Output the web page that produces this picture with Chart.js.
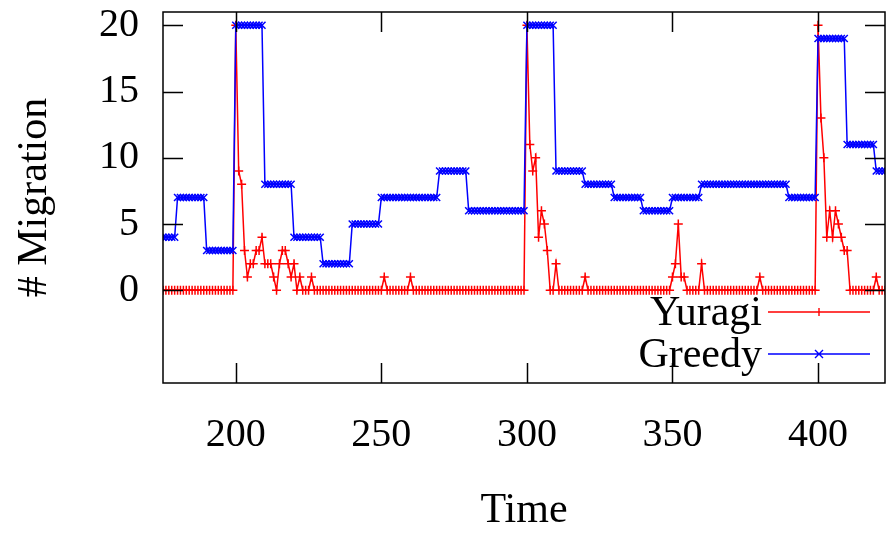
<!DOCTYPE html>
<html>
<head>
<meta charset="utf-8">
<script src="https://cdn.jsdelivr.net/npm/chart.js@4.4.1/dist/chart.umd.min.js"></script>
<style>
  html, body { margin: 0; padding: 0; background: #fff; }
  #wrap { width: 886px; height: 533px; }
</style>
</head>
<body>
<div id="wrap"><canvas id="grafico" width="886" height="533"></canvas></div>
<script>
// time runs 175..423, one sample per step
const startTime = 175;

const yuragi = [
    0, 0, 0, 0, 0,
    0, 0, 0, 0, 0, 0, 0, 0, 0, 0,
    0, 0, 0, 0, 0, 0, 0, 0, 0, 0,
    20, 9, 8, 3, 1, 2, 2, 3, 3, 4,
    2, 2, 2, 1, 0, 2, 3, 3, 2, 1,
    2, 0, 1, 0, 0, 0, 1, 0, 0, 0,
    0, 0, 0, 0, 0, 0, 0, 0, 0, 0,
    0, 0, 0, 0, 0, 0, 0, 0, 0, 0,
    0, 1, 0, 0, 0, 0, 0, 0, 0, 0,
    1, 0, 0, 0, 0, 0, 0, 0, 0, 0,
    0, 0, 0, 0, 0, 0, 0, 0, 0, 0,
    0, 0, 0, 0, 0, 0, 0, 0, 0, 0,
    0, 0, 0, 0, 0, 0, 0, 0, 0, 0,
    20, 11, 9, 10, 4, 6, 5, 3, 0, 0,
    2, 0, 0, 0, 0, 0, 0, 0, 0, 0,
    1, 0, 0, 0, 0, 0, 0, 0, 0, 0,
    0, 0, 0, 0, 0, 0, 0, 0, 0, 0,
    0, 0, 0, 0, 0, 0, 0, 0, 0, 0,
    1, 2, 5, 1, 1, 0, 0, 0, 0, 0,
    2, 0, 0, 0, 0, 0, 0, 0, 0, 0,
    0, 0, 0, 0, 0, 0, 0, 0, 0, 0,
    1, 0, 0, 0, 0, 0, 0, 0, 0, 0,
    0, 0, 0, 0, 0, 0, 0, 0, 0, 0,
    20, 13, 10, 4, 6, 4, 6, 5, 4, 3,
    3, 0, 0, 0, 0, 0, 0, 0, 0, 0,
    1, 0, 0, 0
];

const greedy = [
    4, 4, 4, 4, 4,
    7, 7, 7, 7, 7, 7, 7, 7, 7, 7,
    3, 3, 3, 3, 3, 3, 3, 3, 3, 3,
    20, 20, 20, 20, 20, 20, 20, 20, 20, 20,
    8, 8, 8, 8, 8, 8, 8, 8, 8, 8,
    4, 4, 4, 4, 4, 4, 4, 4, 4, 4,
    2, 2, 2, 2, 2, 2, 2, 2, 2, 2,
    5, 5, 5, 5, 5, 5, 5, 5, 5, 5,
    7, 7, 7, 7, 7, 7, 7, 7, 7, 7,
    7, 7, 7, 7, 7, 7, 7, 7, 7, 7,
    9, 9, 9, 9, 9, 9, 9, 9, 9, 9,
    6, 6, 6, 6, 6, 6, 6, 6, 6, 6,
    6, 6, 6, 6, 6, 6, 6, 6, 6, 6,
    20, 20, 20, 20, 20, 20, 20, 20, 20, 20,
    9, 9, 9, 9, 9, 9, 9, 9, 9, 9,
    8, 8, 8, 8, 8, 8, 8, 8, 8, 8,
    7, 7, 7, 7, 7, 7, 7, 7, 7, 7,
    6, 6, 6, 6, 6, 6, 6, 6, 6, 6,
    7, 7, 7, 7, 7, 7, 7, 7, 7, 7,
    8, 8, 8, 8, 8, 8, 8, 8, 8, 8,
    8, 8, 8, 8, 8, 8, 8, 8, 8, 8,
    8, 8, 8, 8, 8, 8, 8, 8, 8, 8,
    7, 7, 7, 7, 7, 7, 7, 7, 7, 7,
    19, 19, 19, 19, 19, 19, 19, 19, 19, 19,
    11, 11, 11, 11, 11, 11, 11, 11, 11, 11,
    9, 9, 9, 9
];

const times = greedy.map((v, i) => startTime + i);
const xTicks = [200, 250, 300, 350, 400];
const yTicks = [0, 5, 10, 15, 20];

const fonte = "'Liberation Serif', 'Times New Roman', serif";

// gnuplot-like frame with inward ticks on all four sides
const moldura = {
    id: "moldura",
    afterDatasetsDraw(chart) {
        const { ctx, chartArea: a, scales } = chart;
        const len = 20;
        ctx.save();
        ctx.strokeStyle = "#000";
        ctx.lineWidth = 1.5;
        ctx.beginPath();
        xTicks.forEach(v => {
            const px = Math.round(scales.x.getPixelForValue(v)) + 0.5;
            ctx.moveTo(px, a.bottom); ctx.lineTo(px, a.bottom - len);
            ctx.moveTo(px, a.top); ctx.lineTo(px, a.top + len);
        });
        yTicks.forEach(v => {
            const py = Math.round(scales.y.getPixelForValue(v)) + 0.5;
            ctx.moveTo(a.left, py); ctx.lineTo(a.left + len, py);
            ctx.moveTo(a.right, py); ctx.lineTo(a.right - len, py);
        });
        ctx.stroke();
        ctx.strokeRect(a.left, a.top, a.right - a.left, a.bottom - a.top);
        ctx.restore();
    },
    afterDraw(chart) {
        const { ctx } = chart;
        const linhas = [312, 354];
        ctx.save();
        ctx.font = "42px " + fonte;
        ctx.textAlign = "right";
        ctx.textBaseline = "middle";
        chart.data.datasets.forEach((ds, i) => {
            const y = linhas[i];
            ctx.fillStyle = "#000";
            ctx.fillText(ds.label, 762, y + 2);
            ctx.strokeStyle = ds.borderColor;
            ctx.lineWidth = 1.4;
            ctx.beginPath();
            ctx.moveTo(768, y); ctx.lineTo(870, y);
            const r = 4;
            if (ds.pointStyle === "cross") {
                ctx.moveTo(819 - r, y); ctx.lineTo(819 + r, y);
                ctx.moveTo(819, y - r); ctx.lineTo(819, y + r);
            } else {
                ctx.moveTo(819 - r, y - r); ctx.lineTo(819 + r, y + r);
                ctx.moveTo(819 - r, y + r); ctx.lineTo(819 + r, y - r);
            }
            ctx.stroke();
        });
        ctx.restore();
    }
};

const ctx = document.getElementById("grafico").getContext("2d");

new Chart(ctx, {
    type: "line",
    data: {
        datasets: [
            {
                label: "Yuragi",
                data: times.map((t, i) => ({ x: t, y: yuragi[i] })),
                borderColor: "#ff0000",
                backgroundColor: "#ff0000",
                borderWidth: 1.5,
                pointStyle: "cross",
                pointRadius: 4.5,
                pointBorderWidth: 1.5,
                pointBorderColor: "#ff0000",
                tension: 0,
                order: 1,
            },
            {
                label: "Greedy",
                data: times.map((t, i) => ({ x: t, y: greedy[i] })),
                borderColor: "#0000ff",
                backgroundColor: "#0000ff",
                borderWidth: 1.5,
                pointStyle: "crossRot",
                pointRadius: 5,
                pointBorderWidth: 1.5,
                pointBorderColor: "#0000ff",
                tension: 0,
                order: 0,
            },
        ],
    },
    options: {
        responsive: false,
        animation: false,
        devicePixelRatio: 1,
        layout: { autoPadding: false, padding: { top: 12, right: 1, left: 0, bottom: 0 } },
        plugins: {
            legend: { display: false },
            tooltip: { enabled: false },
        },
        scales: {
            x: {
                type: "linear",
                min: 175,
                max: 423,
                afterBuildTicks: s => { s.ticks = xTicks.map(v => ({ value: v })); },
                afterFit: s => { s.height = 150; s.paddingLeft = 0; s.paddingRight = 0; },
                grid: { display: false, drawTicks: false },
                border: { display: false },
                ticks: {
                    color: "#000",
                    font: { family: fonte, size: 40 },
                    padding: 28,
                    maxRotation: 0,
                    autoSkip: false,
                },
                title: {
                    display: true,
                    text: "Time",
                    color: "#000",
                    font: { family: fonte, size: 42 },
                    padding: { top: 0, bottom: -3 },
                },
            },
            y: {
                min: -7,
                max: 21,
                afterBuildTicks: s => { s.ticks = yTicks.map(v => ({ value: v })); },
                afterFit: s => { s.width = 163; s.paddingTop = 0; s.paddingBottom = 0; },
                grid: { display: false, drawTicks: false },
                border: { display: false },
                ticks: {
                    color: "#000",
                    font: { family: fonte, size: 40 },
                    padding: 24,
                },
                title: {
                    display: true,
                    text: "# Migration",
                    color: "#000",
                    font: { family: fonte, size: 42 },
                    padding: { top: 10, bottom: 0 },
                },
            },
        },
    },
    plugins: [moldura],
});
</script>
</body>
</html>
